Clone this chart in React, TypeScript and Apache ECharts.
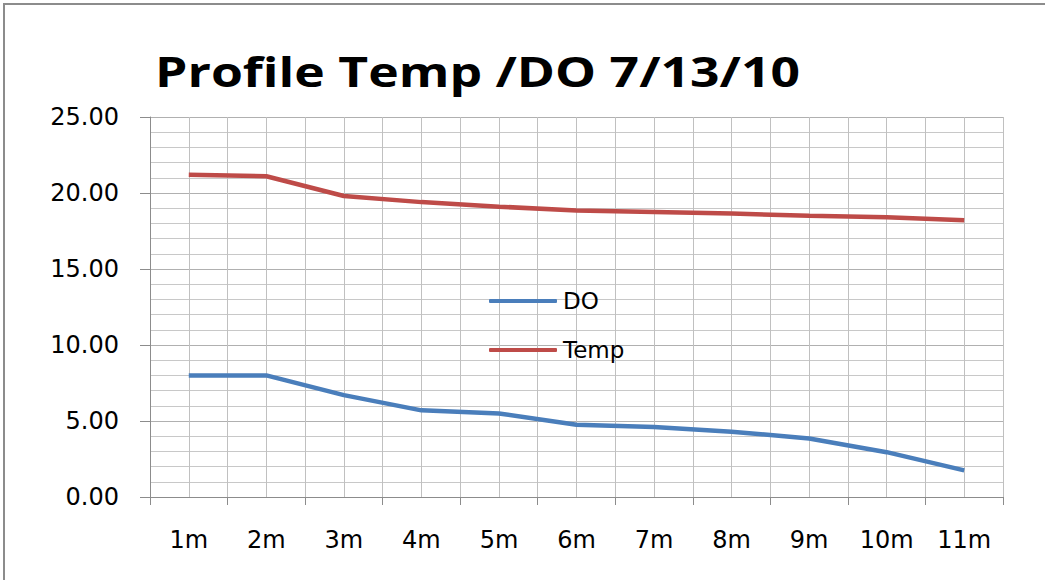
import React, { useEffect, useRef } from "react";
import * as echarts from "echarts";

const categories = ["1m", "2m", "3m", "4m", "5m", "6m", "7m", "8m", "9m", "10m", "11m"];
const doValues = [8.0, 8.0, 6.7, 5.7, 5.5, 4.75, 4.6, 4.3, 3.85, 2.95, 1.75];
const tempValues = [21.2, 21.1, 19.8, 19.4, 19.1, 18.85, 18.75, 18.65, 18.5, 18.4, 18.2];
const halfCategories = Array.from({ length: categories.length * 2 }, (_, i) => String(i));
const titleText = "Profile Temp /DO 7/13/10";

export default function App() {
  const ref = useRef<HTMLDivElement>(null);
  useEffect(() => {
    if (!ref.current) return;
    const chart = echarts.init(ref.current, undefined, { renderer: "svg" });
    const labelFont = "DejaVu Sans";
    chart.setOption({
      animation: false,
      backgroundColor: "#ffffff",
      graphic: [
        {
          type: "rect",
          shape: { x: 4, y: 4, width: 1100, height: 640 },
          style: { fill: "none", stroke: "#8c8c8c", lineWidth: 2 },
          silent: true,
        },
        {
          type: "text",
          x: 155,
          y: 51,
          scaleX: 1.26,
          scaleY: 1,
          style: {
            text: titleText,
            x: 0,
            y: 0,
            fill: "#000",
            fontFamily: "Open Sans",
            fontWeight: "bold",
            fontSize: 41,
            textVerticalAlign: "top",
            verticalAlign: "top",
          },
          silent: true,
        },
      ],
      legend: {
        orient: "vertical",
        left: 489,
        top: 289,
        padding: 0,
        icon: "roundRect",
        itemWidth: 68,
        itemHeight: 4,
        itemGap: 25,
        textStyle: { fontFamily: labelFont, fontSize: 23, color: "#000", lineHeight: 24, padding: [0, 0, 0, 1] },
        data: ["DO", "Temp"],
      },
      grid: { left: 150, right: 42, top: 117, bottom: 83, containLabel: false },
      xAxis: [
        {
          type: "category",
          data: categories,
          boundaryGap: true,
          axisLine: { show: true, lineStyle: { color: "#8c8c8c", width: 1 } },
          axisTick: { show: true, length: 8, lineStyle: { color: "#8c8c8c" }, interval: 0 },
          axisLabel: { fontFamily: labelFont, fontSize: 24, color: "#000", margin: 31, interval: 0 },
          splitLine: { show: false },
        },
        {
          type: "category",
          data: halfCategories,
          boundaryGap: true,
          position: "bottom",
          axisLine: { show: false },
          axisTick: { show: false },
          axisLabel: { show: false },
          splitLine: { show: true, interval: 0, lineStyle: { color: "#c0c0c0", width: 1 } },
        },
      ],
      yAxis: {
        type: "value",
        min: 0,
        max: 25,
        interval: 5,
        axisLine: { show: true, lineStyle: { color: "#8c8c8c", width: 1 } },
        axisTick: { show: true, length: 10, lineStyle: { color: "#8c8c8c" } },
        axisLabel: {
          fontFamily: labelFont,
          fontSize: 24,
          color: "#000",
          margin: 31,
          formatter: (v: number) => v.toFixed(2),
        },
        splitLine: { show: true, lineStyle: { color: "#b0b0b0", width: 1 } },
        minorTick: { show: false, splitNumber: 5 },
        minorSplitLine: { show: true, lineStyle: { color: "#c8c8c8", width: 1 } },
      },
      series: [
        {
          name: "DO",
          type: "line",
          data: doValues,
          symbol: "none",
          xAxisIndex: 0,
          lineStyle: { color: "#4a7ebb", width: 4.5 },
          itemStyle: { color: "#4a7ebb" },
        },
        {
          name: "Temp",
          type: "line",
          data: tempValues,
          symbol: "none",
          xAxisIndex: 0,
          lineStyle: { color: "#be4b48", width: 4.5 },
          itemStyle: { color: "#be4b48" },
        },
      ],
    });
    return () => chart.dispose();
  }, []);
  return (
    <div
      ref={ref}
      style={{ position: "fixed", left: 0, top: 0, width: 1045, height: 580 }}
    />
  );
}
